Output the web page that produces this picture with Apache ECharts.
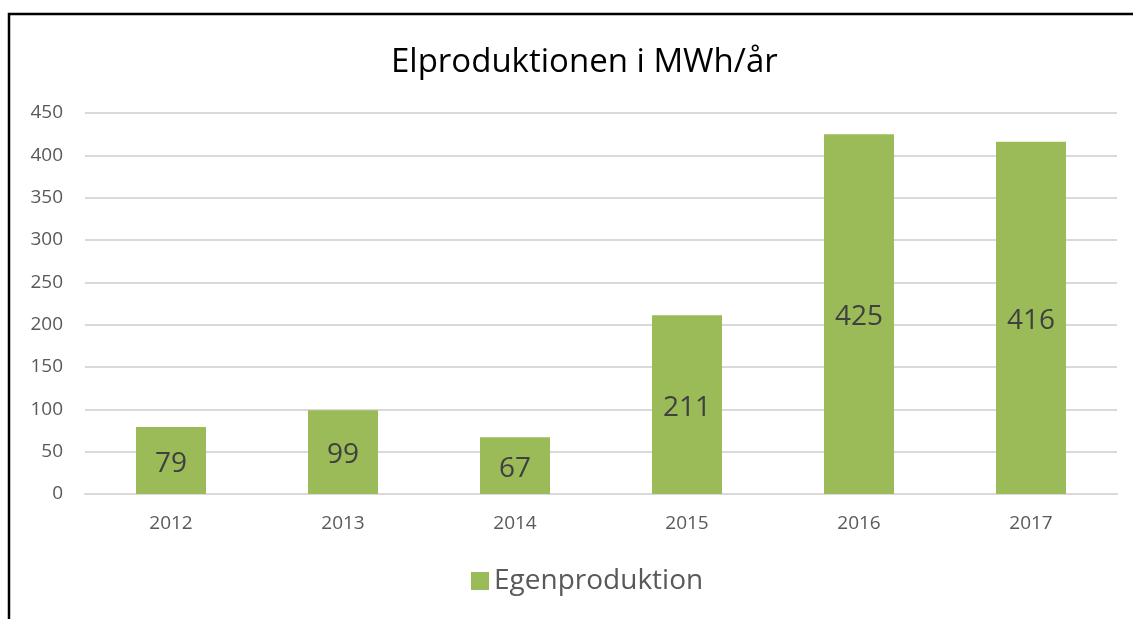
<!DOCTYPE html>
<html><head><meta charset="utf-8">
<script src="https://cdn.jsdelivr.net/npm/echarts@6/dist/echarts.min.js"></script>
<style>html,body{margin:0;padding:0;background:#fff}#c{width:1133px;height:619px}</style>
</head><body><div id="c"></div>
<script>
const categories = ['2012','2013','2014','2015','2016','2017'];
const egenproduktion = [79, 99, 67, 211, 425, 416];
const yTicks = {min: 0, max: 450, interval: 50};
const FONT = 'Open Sans';
const chart = echarts.init(document.getElementById('c'));
chart.setOption({
  animation: false,
  backgroundColor: '#fff',
  title: {text: 'Elproduktionen i MWh/år', left: 386, top: 41,
    textStyle: {fontFamily: FONT, fontSize: 33, fontWeight: 'normal', color: '#000'}},
  legend: {bottom: 19, left: 466, itemWidth: 18, itemHeight: 18, itemGap: 8, icon: 'rect',
    textStyle: {fontFamily: FONT, fontSize: 28, color: '#595959'},
    data: ['Egenproduktion']},
  grid: {left: 85, right: 16, top: 113, bottom: 125},
  xAxis: {type: 'category', data: categories,
    axisLine: {lineStyle: {color: '#d9d9d9', width: 2}}, axisTick: {show: false},
    axisLabel: {fontFamily: FONT, fontSize: 19, color: '#595959', margin: 20}},
  yAxis: {type: 'value', min: yTicks.min, max: yTicks.max, interval: yTicks.interval,
    axisLine: {show: false}, axisTick: {show: false},
    splitLine: {lineStyle: {color: '#d9d9d9', width: 2}},
    axisLabel: {fontFamily: FONT, fontSize: 19, color: '#595959', margin: 22}},
  series: [{name: 'Egenproduktion', type: 'bar', data: egenproduktion, barWidth: 70,
    itemStyle: {color: '#9bbb59'},
    label: {show: true, position: 'inside', offset: [0, 3], fontFamily: FONT, fontSize: 28, color: '#404040'}}],
  graphic: [{type: 'rect', shape: {x: 9, y: 14, width: 1140, height: 640},
    style: {fill: 'none', stroke: '#000', lineWidth: 2.5}, silent: true}]
});
</script></body></html>
